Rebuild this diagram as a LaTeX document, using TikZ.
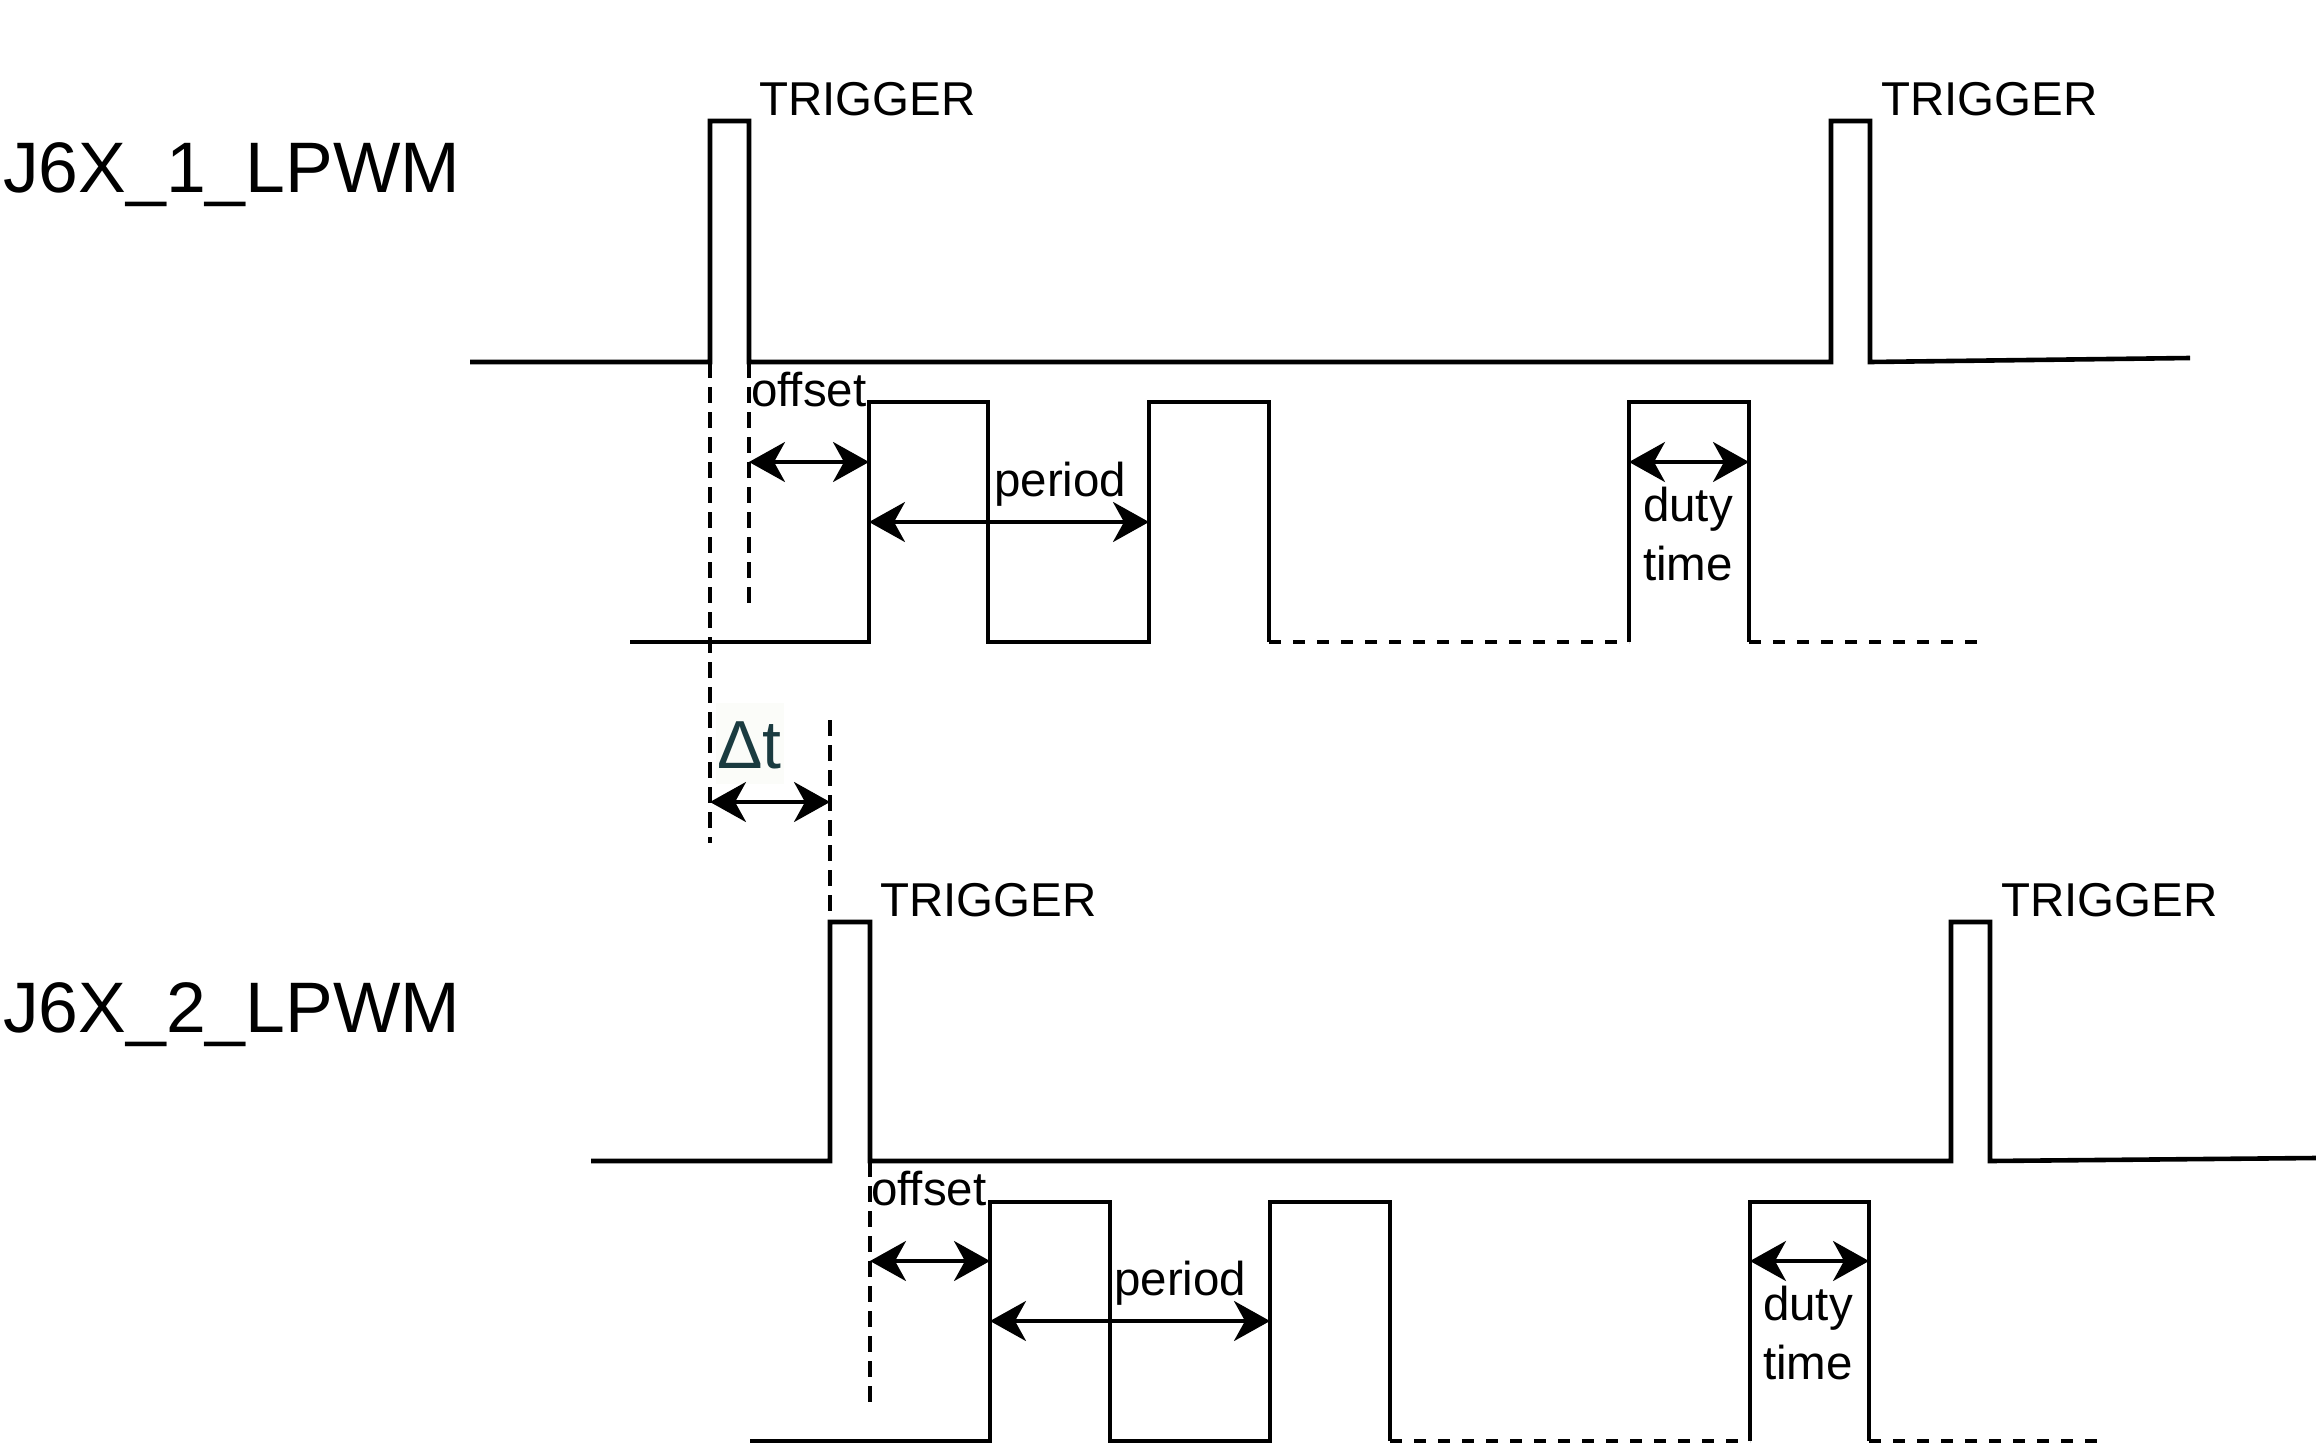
\documentclass[tikz,border=0pt]{standalone}
\usepackage{fontspec}
\setmainfont{Liberation Sans}
\usetikzlibrary{arrows.meta}
\definecolor{dtcol}{HTML}{1A3B40}
\definecolor{dtbg}{HTML}{FBFCF9}
\begin{document}
\begin{tikzpicture}[x=1pt,y=-1pt,
  wave/.style={line width=4.6pt, line join=miter},
  lowdash/.style={line width=4.6pt, dash pattern=on 12pt off 12pt},
  guide/.style={line width=4.5pt, dash pattern=on 16pt off 9pt},
  dimarrow/.style={line width=3.6pt, {Stealth[length=36pt,width=40pt,inset=11pt]}-{Stealth[length=36pt,width=40pt,inset=11pt]}},
  lbl/.style={inner sep=0pt, anchor=base west, font=\fontsize{47.5}{52}\selectfont},
  lblc/.style={inner sep=0pt, anchor=base, font=\fontsize{47.5}{52}\selectfont},
  sig/.style={inner sep=0pt, anchor=base west, font=\fontsize{71.5}{80}\selectfont},
]
\useasboundingbox (0,0) rectangle (2316,1448);

% signal names
\node[sig] (name1) at (3,192) {J6X\_1\_LPWM};
\node[sig] (name2) at (3,1032) {J6X\_2\_LPWM};

% ---------- channel 1 ----------
\coordinate (t1a) at (710,362);
\coordinate (t1b) at (749,362);
\draw[wave] (470,362) -- (t1a) -- (710,121) -- (749,121) -- (t1b) -- (1831,362)
  -- (1831,121) -- (1870,121) -- (1870,362) -- (2190,358);
\draw[wave] (630,642) -- (869,642) -- (869,402) -- (988,402) -- (988,642) -- (1149,642)
  -- (1149,402) -- (1269,402) -- (1269,642);
\draw[lowdash] (1269,642) -- (1629,642);
\draw[wave] (1629,642) -- (1629,402) -- (1749,402) -- (1749,642);
\draw[lowdash] (1749,642) -- (1978,642);

\node[lbl] (trg1) at (759,115) {TRIGGER};
\node[lbl] (trg2) at (1881,115) {TRIGGER};
\node[lbl] (off1) at (751,406) {offset};
\node[lbl] (per1) at (994,496) {period};
\node[lblc] (duty1) at (1688,521) {duty};
\node[lblc] (time1) at (1688,580) {time};

\coordinate (g1end) at (710,843);
\coordinate (g2end) at (749,603);
\draw[guide] (t1a) -- (g1end);
\draw[guide] (t1b) -- (g2end);

\coordinate (o1l) at (749,462);  \coordinate (o1r) at (869,462);
\coordinate (p1l) at (869,522);  \coordinate (p1r) at (1149,522);
\coordinate (d1l) at (1629,462); \coordinate (d1r) at (1749,462);
\draw[dimarrow] (o1l) -- (o1r);
\draw[dimarrow] (p1l) -- (p1r);
\draw[dimarrow] (d1l) -- (d1r);

% ---------- delta t ----------
\fill[dtbg] (716,703) rectangle (784,784);
\node[inner sep=0pt, anchor=base west, text=dtcol, font=\fontsize{68}{72}\selectfont] (dt) at (717,768) {Δt};
\coordinate (dtl) at (710,802); \coordinate (dtr) at (830,802);
\draw[dimarrow] (dtl) -- (dtr);

% ---------- channel 2 ----------
\coordinate (t2a) at (830,922);
\coordinate (t2b) at (870,1161);
\coordinate (g3top) at (830,720);
\draw[guide] (g3top) -- (t2a);
\draw[wave] (591,1161) -- (830,1161) -- (t2a) -- (870,922) -- (t2b) -- (1951,1161)
  -- (1951,922) -- (1990,922) -- (1990,1161) -- (2316,1158);
\draw[wave] (750,1441) -- (990,1441) -- (990,1202) -- (1110,1202) -- (1110,1441) -- (1270,1441)
  -- (1270,1202) -- (1390,1202) -- (1390,1441);
\draw[lowdash] (1390,1441) -- (1750,1441);
\draw[wave] (1750,1441) -- (1750,1202) -- (1869,1202) -- (1869,1441);
\draw[lowdash] (1869,1441) -- (2097,1441);

\node[lbl] (trg3) at (880,916) {TRIGGER};
\node[lbl] (trg4) at (2001,916) {TRIGGER};
\node[lbl] (off2) at (871,1205) {offset};
\node[lbl] (per2) at (1114,1295) {period};
\node[lblc] (duty2) at (1808,1320) {duty};
\node[lblc] (time2) at (1808,1379) {time};

\coordinate (g4end) at (870,1404);
\draw[guide] (t2b) -- (g4end);

\coordinate (o2l) at (870,1261);  \coordinate (o2r) at (990,1261);
\coordinate (p2l) at (990,1321);  \coordinate (p2r) at (1270,1321);
\coordinate (d2l) at (1750,1261); \coordinate (d2r) at (1869,1261);
\draw[dimarrow] (o2l) -- (o2r);
\draw[dimarrow] (p2l) -- (p2r);
\draw[dimarrow] (d2l) -- (d2r);
\end{tikzpicture}
\end{document}
